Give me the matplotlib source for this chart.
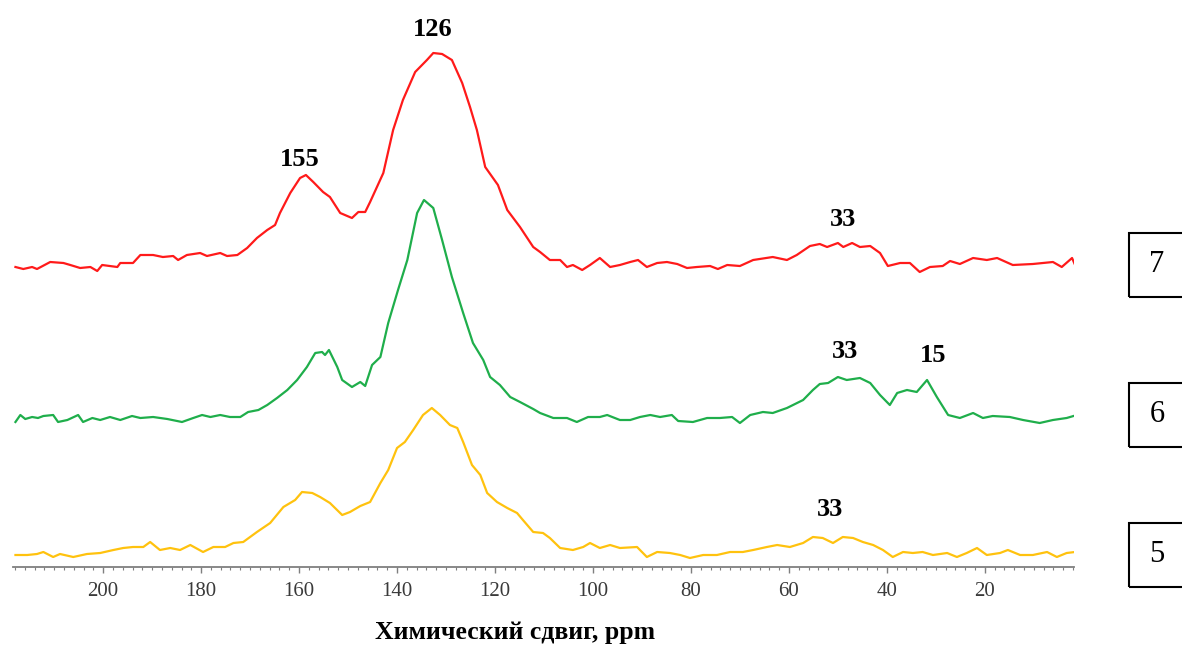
import numpy as np
import matplotlib
matplotlib.use("Agg")
import matplotlib.pyplot as plt
from matplotlib.patches import Rectangle
from matplotlib.ticker import MultipleLocator

# 13C NMR spectra of samples 5, 6, 7 (intensity above each baseline, a.u.)
red_ppm = [217.9, 216.3, 214.5, 213.5, 210.8, 208.1, 206.7, 204.7, 202.6, 201.2,
           200.2, 197.1, 196.5, 193.9, 192.4, 189.8, 187.8, 185.7, 184.7, 182.9,
           180.2, 178.8, 176.1, 174.7, 172.6, 170.6, 168.6, 166.5, 164.9, 163.9,
           161.8, 159.8, 158.6, 157.1, 155.1, 153.7, 151.6, 149.2, 147.9, 146.5,
           145.5, 142.8, 140.8, 138.8, 136.3, 133.9, 132.6, 130.8, 128.8, 126.7,
           125.1, 123.7, 122.0, 119.4, 117.5, 114.9, 112.2, 110.8, 108.8, 106.7,
           105.3, 104.1, 102.2, 100.6, 98.6, 96.5, 94.5, 92.4, 90.8, 89.0,
           86.9, 84.9, 82.8, 80.8, 78.8, 76.1, 74.5, 72.6, 70.0, 67.3,
           63.3, 60.4, 58.4, 55.7, 53.7, 52.2, 50.0, 48.9, 47.1, 45.5,
           43.4, 41.4, 39.8, 37.3, 35.3, 33.3, 31.2, 28.6, 27.1, 25.1,
           22.4, 19.6, 17.5, 14.3, 10.2, 6.1, 4.3, 2.2, 1.4]
red_int = [-2, -4, -2, -4, 3, 2, 0, -3, -2, -6,
           0, -2, 2, 2, 10, 10, 8, 9, 5, 10,
           12, 9, 12, 9, 10, 17, 27, 35, 40, 52,
           72, 87, 90, 83, 73, 68, 52, 47, 53, 53,
           63, 92, 135, 165, 193, 205, 212, 211, 205, 182,
           158, 135, 98, 80, 55, 38, 18, 13, 5, 5,
           -2, 0, -5, 0, 7, -2, 0, 3, 5, -2,
           2, 3, 1, -3, -2, -1, -4, 0, -1, 5,
           8, 5, 10, 19, 21, 18, 22, 18, 22, 18,
           19, 12, -1, 2, 2, -7, -2, -1, 4, 1,
           7, 5, 7, 0, 1, 3, -2, 7, -2]

green_ppm = [217.9, 216.9, 215.9, 214.5, 213.3, 212.2, 210.2, 209.2, 207.3, 205.1,
             204.1, 202.2, 200.6, 198.6, 196.5, 194.1, 192.4, 189.8, 186.9, 183.9,
             181.6, 179.8, 178.1, 176.1, 174.1, 172.0, 170.4, 168.3, 166.5, 164.5,
             162.4, 160.4, 158.4, 156.7, 155.3, 154.7, 153.9, 152.2, 151.2, 149.2,
             147.5, 146.5, 145.1, 143.4, 141.8, 139.8, 137.9, 135.9, 134.5, 132.6,
             130.8, 128.8, 126.5, 124.5, 122.4, 121.0, 119.0, 116.9, 114.9, 112.2,
             110.8, 108.1, 105.3, 103.3, 101.0, 98.6, 97.1, 94.5, 92.4, 90.4,
             88.3, 86.3, 83.9, 82.6, 79.6, 76.7, 74.1, 71.6, 70.0, 67.9,
             65.3, 63.3, 60.4, 57.1, 55.1, 53.7, 52.0, 50.0, 48.2, 45.5,
             43.4, 41.4, 39.4, 37.9, 35.9, 33.9, 31.8, 29.8, 27.5, 25.1,
             22.4, 20.4, 18.4, 14.9, 12.2, 8.8, 6.1, 3.3, 1.2]
green_int = [-5, 2, -2, 0, -1, 1, 2, -5, -3, 2,
             -5, -1, -3, 0, -3, 1, -1, 0, -2, -5,
             -1, 2, 0, 2, 0, 0, 5, 7, 12, 19,
             27, 37, 50, 64, 65, 62, 67, 50, 37, 30,
             35, 31, 52, 60, 94, 127, 157, 204, 217, 209,
             177, 140, 104, 74, 57, 40, 32, 20, 15, 8,
             4, -1, -1, -5, 0, 0, 2, -3, -3, 0,
             2, 0, 2, -4, -5, -1, -1, 0, -6, 2,
             5, 4, 9, 17, 27, 33, 34, 40, 37, 39,
             34, 22, 12, 24, 27, 25, 37, 20, 2, -1,
             4, -1, 1, 0, -3, -6, -3, -1, 2]

yellow_ppm = [217.9, 215.5, 213.5, 212.2, 210.2, 208.8, 206.1, 203.3, 200.6, 197.9,
              195.9, 193.9, 191.8, 190.4, 188.4, 186.3, 184.3, 182.2, 179.6, 177.5,
              175.1, 173.4, 171.4, 168.6, 165.9, 163.2, 160.8, 159.4, 157.3, 155.7,
              153.7, 151.2, 149.6, 147.5, 145.5, 143.4, 141.8, 140.0, 138.4, 136.7,
              134.7, 132.9, 131.2, 129.2, 127.7, 126.5, 124.7, 123.0, 121.6, 119.6,
              117.5, 115.5, 114.3, 112.2, 110.2, 108.8, 106.7, 104.1, 102.0, 100.6,
              98.6, 96.5, 94.5, 91.0, 89.0, 86.9, 84.3, 82.2, 80.2, 77.5,
              74.7, 72.0, 69.4, 67.3, 64.5, 62.4, 59.8, 57.1, 55.1, 53.1,
              51.0, 49.0, 46.9, 44.9, 42.8, 40.8, 38.8, 36.7, 34.7, 32.7,
              30.6, 27.7, 25.7, 23.7, 21.6, 19.6, 16.9, 15.3, 12.8, 10.2,
              7.3, 5.3, 3.3, 1.6]
yellow_int = [-3, -3, -2, 0, -5, -2, -5, -2, -1, 2,
              4, 5, 5, 10, 2, 4, 2, 7, 0, 5,
              5, 9, 10, 20, 29, 45, 52, 60, 59, 55,
              49, 37, 40, 46, 50, 69, 82, 104, 110, 122,
              137, 144, 137, 127, 124, 110, 87, 77, 59, 50,
              44, 39, 32, 20, 19, 14, 4, 2, 5, 9,
              4, 7, 4, 5, -5, 0, -1, -3, -6, -3,
              -3, 0, 0, 2, 5, 7, 5, 9, 15, 14,
              9, 15, 14, 10, 7, 2, -5, 0, -1, 0,
              -3, -1, -5, -1, 4, -3, -1, 2, -3, -3,
              0, -5, -1, 0]

# peak assignments written above the spectra
red_labels = ["155", "126", "33"]
red_label_ppm = [159.8, 132.8, 49.0]
green_labels = ["33", "15"]
green_label_ppm = [48.6, 30.6]
yellow_labels = ["33"]
yellow_label_ppm = [51.6]

sample_names = ["7", "6", "5"]

xticks = [200, 180, 160, 140, 120, 100, 80, 60, 40, 20]

# vertical stacking of the traces
offsets = {"red": 302, "green": 150, "yellow": 15}
colors = {"red": "#ff1a1a", "green": "#1fae4b", "yellow": "#ffc20e"}

fig = plt.figure(figsize=(11.82, 6.45), dpi=100)
ax = fig.add_axes([13 / 1182, 78 / 645, 1061 / 1182, 567 / 645])

serif = ["Liberation Serif", "DejaVu Serif"]

series = [
    ("red", red_ppm, red_int, red_labels, red_label_ppm, [15, 23, 24]),
    ("green", green_ppm, green_int, green_labels, green_label_ppm, [25, 24]),
    ("yellow", yellow_ppm, yellow_int, yellow_labels, yellow_label_ppm, [28]),
]
for key, ppm, inten, labels, label_ppm, gaps in series:
    ppm = np.array(ppm)
    y = np.array(inten) + offsets[key]
    ax.plot(ppm, y, color=colors[key], lw=1.6, solid_joinstyle="round")
    for text, pos, gap in zip(labels, label_ppm, gaps):
        near = np.abs(ppm - pos) < 4
        top = y[near].max()
        ax.text(pos, top + gap, text, ha="center", va="center",
                fontsize=19, fontweight="bold", family=serif, color="black")

ax.set_xlim(218.4, 1.8)
ax.set_ylim(0, 567)
for side in ["left", "right", "top"]:
    ax.spines[side].set_visible(False)
ax.spines["bottom"].set_color("#7f7f7f")
ax.spines["bottom"].set_linewidth(1.3)
ax.set_yticks([])
ax.set_xticks(xticks)
ax.xaxis.set_minor_locator(MultipleLocator(2))
ax.tick_params(axis="x", which="major", length=4, width=1, color="#7f7f7f",
               pad=7, labelsize=15, labelcolor="#3a3a3a")
ax.tick_params(axis="x", which="minor", length=2.5, width=0.8, color="#7f7f7f")
for lab in ax.get_xticklabels():
    lab.set_family(serif)

fig.text(515 / 1182, 13 / 645, "Химический сдвиг, ppm", ha="center", va="center",
         fontsize=18.5, fontweight="bold", family=serif)

# numbered boxes on the right edge
box_tops = [233, 383, 523]
for name, top in zip(sample_names, box_tops):
    y0 = (645 - top - 64) / 645
    fig.patches.append(Rectangle((1129 / 1182, y0), 0.08, 64 / 645,
                                 transform=fig.transFigure, fill=False,
                                 edgecolor="black", lw=1.5))
    fig.text(1157 / 1182, y0 + 32 / 645, name, ha="center", va="center",
             fontsize=22, family=serif)

fig.savefig("out.png", dpi=100)
